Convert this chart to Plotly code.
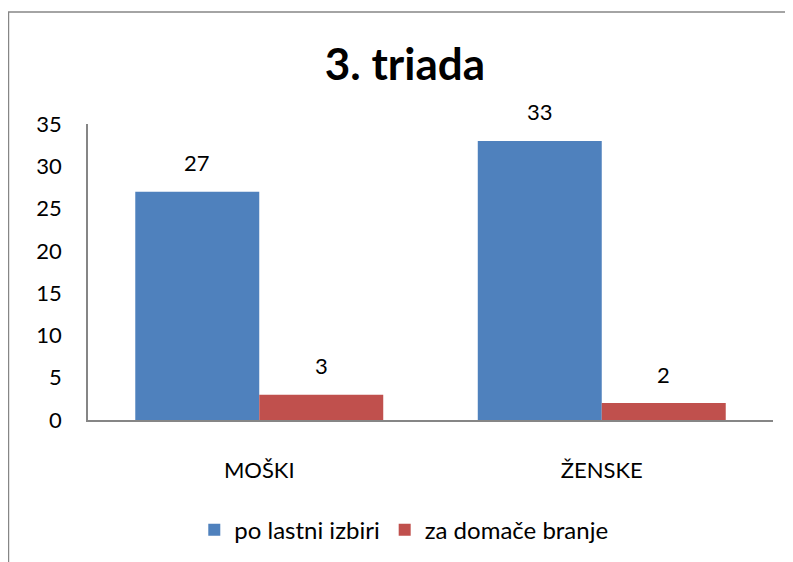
import plotly.graph_objects as go

# ── Data ───────────────────────────────────────────────────────────────────────
categories = ["MOŠKI", "ŽENSKE"]
series_names = ["po lastni izbiri", "za domače branje"]
own_choice = [27, 33]
home_reading = [3, 2]

COLORS = ["#4F81BD", "#C0504D"]
FONT = "Lato, 'Open Sans', sans-serif"
AXIS_GRAY = "#868686"

fig = go.Figure()
for name, vals, col in zip(series_names, [own_choice, home_reading], COLORS):
    fig.add_trace(go.Bar(x=categories, y=vals, name=name, marker_color=col,
                         marker_line_width=0))

# data labels above bars (offset per series in the group)
for vals, dx in zip([own_choice, home_reading], [-62, 62]):
    for cat, v in zip(categories, vals):
        fig.add_annotation(x=cat, y=v, text=str(v), showarrow=False,
                           xshift=dx, yshift=29,
                           font=dict(family=FONT, size=22, color="#000"))

# outer chart frame (Excel style)
fig.add_shape(type="rect", xref="paper", yref="paper",
              x0=-0.1161, x1=1.3, y0=-2, y1=1.378,
              line=dict(color=AXIS_GRAY, width=1.5), layer="below")

fig.update_layout(
    width=793, height=562,
    margin=dict(l=80, r=28, t=116, b=150),
    paper_bgcolor="white", plot_bgcolor="white",
    barmode="group", bargap=0.276, bargroupgap=0,
    font=dict(family=FONT, size=22, color="#000"),
    title=dict(text="<b>3. triada</b>", x=0.5006, xanchor="center",
               y=0.899, yanchor="middle",
               font=dict(family=FONT, size=44, color="#000")),
    legend=dict(orientation="h", x=0.461, xanchor="center",
                y=-0.372, yanchor="middle",
                font=dict(family=FONT, size=24, color="#000"),
                itemwidth=30, traceorder="normal"),
    showlegend=True,
)
fig.update_yaxes(range=[0, 35], dtick=5, showgrid=False, zeroline=False,
                 showline=True, linecolor=AXIS_GRAY, linewidth=1.5,
                 ticks="", ticklabelstandoff=20,
                 tickfont=dict(family=FONT, size=22, color="#000"))
fig.update_xaxes(showgrid=False, showline=True, linecolor=AXIS_GRAY,
                 linewidth=1.5, ticks="", ticklabelstandoff=30,
                 tickfont=dict(family=FONT, size=22, color="#000"))

fig.write_html("out.html")
